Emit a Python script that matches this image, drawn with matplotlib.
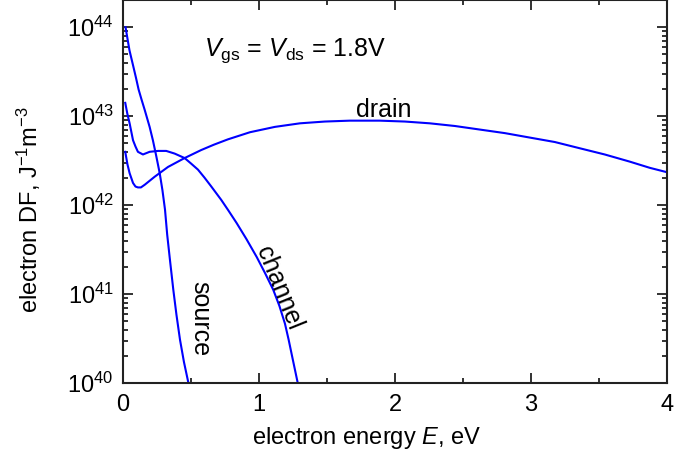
import numpy as np
import matplotlib
matplotlib.use("Agg")
import matplotlib.pyplot as plt
from matplotlib.ticker import LogLocator, FixedLocator, NullFormatter

plt.rcParams['font.family'] = ['Liberation Sans', 'DejaVu Sans']
plt.rcParams['mathtext.fontset'] = 'custom'
plt.rcParams['mathtext.rm'] = 'Liberation Sans'
plt.rcParams['mathtext.it'] = 'Liberation Sans:italic'
plt.rcParams['mathtext.bf'] = 'Liberation Sans:bold'

# --- data (energy in eV, log10 of DF in J^-1 m^-3) ---
source_E = [0.021, 0.050, 0.078, 0.098, 0.117, 0.140, 0.162, 0.198, 0.222,
            0.247, 0.272, 0.292, 0.311, 0.327, 0.347, 0.372, 0.395, 0.421,
            0.450, 0.482]
source_logDF = [44.00, 43.74, 43.56, 43.43, 43.30, 43.18, 43.07, 42.88, 42.73,
                42.55, 42.36, 42.17, 41.95, 41.67, 41.39, 41.05, 40.77, 40.49,
                40.24, 40.01]

channel_E = [0.019, 0.034, 0.051, 0.076, 0.094, 0.112, 0.149, 0.198, 0.259,
             0.320, 0.382, 0.455, 0.501, 0.553, 0.601, 0.651, 0.724, 0.777,
             0.837, 0.909, 0.984, 1.045, 1.106, 1.151, 1.192, 1.219, 1.245,
             1.285]
channel_logDF = [43.15, 43.03, 42.92, 42.73, 42.66, 42.60, 42.57, 42.60, 42.61,
                 42.61, 42.58, 42.53, 42.47, 42.40, 42.31, 42.21, 42.06, 41.94,
                 41.80, 41.62, 41.42, 41.24, 41.05, 40.87, 40.67, 40.49, 40.30,
                 40.01]

drain_E = [0.019, 0.035, 0.051, 0.076, 0.094, 0.112, 0.134, 0.162, 0.235,
           0.333, 0.455, 0.577, 0.670, 0.773, 0.935, 1.118, 1.302, 1.485,
           1.669, 1.889, 2.073, 2.256, 2.440, 2.623, 2.807, 2.990, 3.174,
           3.357, 3.541, 3.724, 3.872, 4.0]
drain_logDF = [42.60, 42.46, 42.36, 42.25, 42.21, 42.20, 42.20, 42.23, 42.32,
               42.43, 42.53, 42.62, 42.68, 42.74, 42.82, 42.88, 42.92, 42.94,
               42.95, 42.95, 42.94, 42.92, 42.89, 42.85, 42.81, 42.76, 42.71,
               42.64, 42.57, 42.49, 42.42, 42.37]

x_ticks = [0, 1, 2, 3, 4]
y_ticks = [1e40, 1e41, 1e42, 1e43, 1e44]

FS = 18      # in-plot annotations
FS_AX = 17   # tick and axis labels

fig = plt.figure(figsize=(6.74, 4.66), dpi=100)
ax = fig.add_axes([0.182, 0.1775, 0.808, 0.8215])

col = '#0000ff'
for E, L in [(source_E, source_logDF), (channel_E, channel_logDF), (drain_E, drain_logDF)]:
    ax.plot(E, 10.0 ** np.array(L), color=col, lw=1.5, solid_joinstyle='round')

ax.set_yscale('log')
ax.set_xlim(0, 4)
ax.set_ylim(1e40, 10 ** 44.3)
ax.set_xticks(x_ticks)
ax.set_xticklabels([str(t) for t in x_ticks])
ax.xaxis.set_minor_locator(FixedLocator([0.5, 1.5, 2.5, 3.5]))
ax.set_yticks(y_ticks)
ax.set_yticklabels([r'$\mathregular{10^{%d}}$' % int(np.log10(t)) for t in y_ticks])
ax.yaxis.set_minor_locator(LogLocator(base=10, subs=np.arange(2, 10), numticks=20))
ax.yaxis.set_minor_formatter(NullFormatter())

ax.tick_params(which='both', direction='in', top=True, right=True, width=1.3, colors='#222222',
               labelcolor='black')
ax.tick_params(which='major', length=7.5, labelsize=FS_AX)
ax.tick_params(axis='x', which='major', pad=7.5)
ax.tick_params(axis='y', which='major', pad=6.5)
ax.tick_params(which='minor', length=3.5)
for s in ax.spines.values():
    s.set_linewidth(1.5)
    s.set_color('#222222')

ax.set_xlabel(r'electron energy $\mathit{E}$, eV', fontsize=FS_AX)
ax.xaxis.set_label_coords(0.447, -0.142)
ax.xaxis.label.set_verticalalignment('center')
ax.set_ylabel(r'electron DF, J$^{\mathregular{-1}}$m$^{\mathregular{-3}}$', fontsize=FS_AX)
ax.yaxis.set_label_coords(-0.172, 0.4525)
ax.yaxis.label.set_verticalalignment('center')

ax.text(1.264, 10 ** 43.678, r'$\mathit{V}_{\mathregular{gs}}$ = $\mathit{V}_{\mathregular{ds}}$ = 1.8V',
        fontsize=FS, ha='center', va='baseline')
ax.text(1.918, 10 ** 42.996, 'drain', fontsize=FS, ha='center', va='baseline')
ax.text(0.573, 10 ** 40.73, 'source', fontsize=FS, ha='center', va='center', rotation=270,
        rotation_mode='anchor')
ax.text(1.15, 10 ** 41.07, 'channel', fontsize=FS, ha='center', va='center', rotation=-68,
        rotation_mode='anchor')

fig.savefig('out.png', dpi=100)
